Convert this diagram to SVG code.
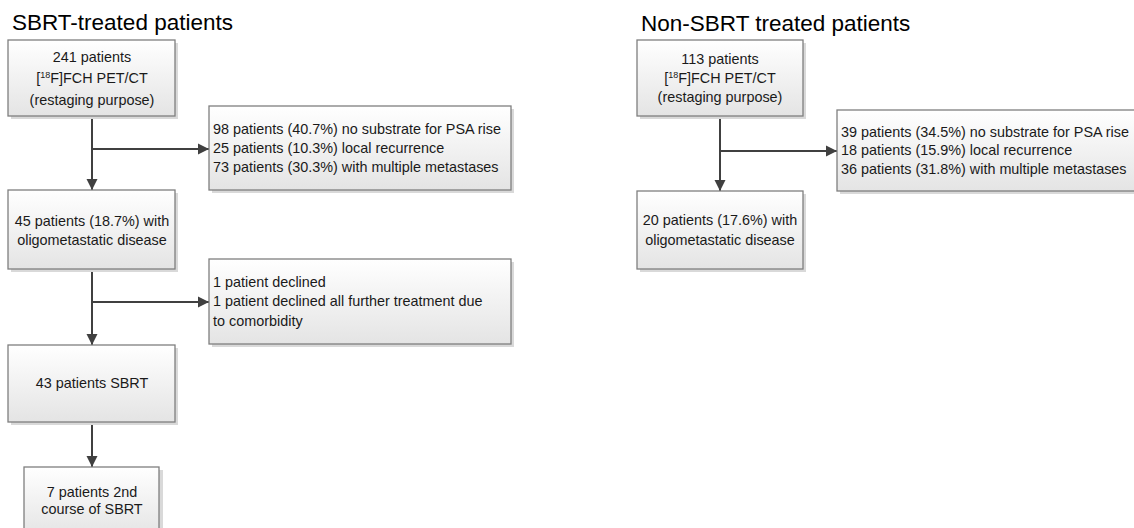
<svg xmlns="http://www.w3.org/2000/svg" width="1134" height="528" viewBox="0 0 1134 528">
<defs>
<linearGradient id="g" x1="0" y1="0" x2="0" y2="1">
<stop offset="0" stop-color="#ffffff"/>
<stop offset="1" stop-color="#e4e4e4"/>
</linearGradient>
<marker id="ah" markerWidth="12" markerHeight="12" refX="11" refY="6" orient="auto" markerUnits="userSpaceOnUse">
<path d="M0,0.5 L11,6 L0,11.5 Z" fill="#404040"/>
</marker>
<style>
.box{fill:url(#g);stroke:#7f7f7f;stroke-width:1.3}
.sh{fill:#d9d9d9}
.t{font-family:"Liberation Sans",Arial,sans-serif;font-size:14.4px;fill:#1a1a1a}
.c{text-anchor:middle}
.title{font-family:"Liberation Sans",Arial,sans-serif;font-size:22.5px;fill:#000}
.ln{stroke:#404040;stroke-width:2;fill:none}
.sup{font-size:9px}
</style>
</defs>
<rect width="1134" height="528" fill="#fff"/>
<text class="title" x="12" y="30">SBRT-treated patients</text>
<text class="title" x="641" y="31">Non-SBRT treated patients</text>

<g id="connectors">
<path class="ln" d="M92,116 V190" marker-end="url(#ah)"/>
<path class="ln" d="M92,149 H209" marker-end="url(#ah)"/>
<path class="ln" d="M92,269 V345" marker-end="url(#ah)"/>
<path class="ln" d="M92,302 H209" marker-end="url(#ah)"/>
<path class="ln" d="M92,422 V467" marker-end="url(#ah)"/>
<path class="ln" d="M720,116 V191" marker-end="url(#ah)"/>
<path class="ln" d="M720,151 H837" marker-end="url(#ah)"/>
</g>

<g id="n1">
<rect class="sh" x="11" y="43" width="167" height="76"/>
<rect class="box" x="8" y="40" width="167" height="76"/>
<text class="t c" x="92" y="62">241 patients</text>
<text class="t c" x="92" y="83">[<tspan class="sup" dy="-5">18</tspan><tspan dy="5">F]FCH PET/CT</tspan></text>
<text class="t c" x="92" y="105">(restaging purpose)</text>
</g>
<g id="n2">
<rect class="sh" x="212" y="109" width="302" height="84"/>
<rect class="box" x="209" y="106" width="302" height="84"/>
<text class="t" x="213" y="134">98 patients (40.7%) no substrate for PSA rise</text>
<text class="t" x="213" y="153">25 patients (10.3%) local recurrence</text>
<text class="t" x="213" y="172">73 patients (30.3%) with multiple metastases</text>
</g>
<g id="n3">
<rect class="sh" x="11" y="193" width="167" height="79"/>
<rect class="box" x="8" y="190" width="167" height="79"/>
<text class="t c" x="92" y="226">45 patients (18.7%) with</text>
<text class="t c" x="92" y="245">oligometastatic disease</text>
</g>
<g id="n4">
<rect class="sh" x="212" y="262" width="302" height="85"/>
<rect class="box" x="209" y="259" width="302" height="85"/>
<text class="t" x="213" y="287">1 patient declined</text>
<text class="t" x="213" y="306">1 patient declined all further treatment due</text>
<text class="t" x="213" y="326">to comorbidity</text>
</g>
<g id="n5">
<rect class="sh" x="11" y="348" width="167" height="77"/>
<rect class="box" x="8" y="345" width="167" height="77"/>
<text class="t c" x="92" y="388">43 patients SBRT</text>
</g>
<g id="n6">
<rect class="sh" x="27" y="470" width="136" height="70"/>
<rect class="box" x="24" y="467" width="135" height="70"/>
<text class="t c" x="92" y="497">7 patients 2nd</text>
<text class="t c" x="92" y="514">course of SBRT</text>
</g>

<g id="n7">
<rect class="sh" x="640" y="43" width="166" height="76"/>
<rect class="box" x="637" y="40" width="166" height="76"/>
<text class="t c" x="720" y="64">113 patients</text>
<text class="t c" x="720" y="83">[<tspan class="sup" dy="-5">18</tspan><tspan dy="5">F]FCH PET/CT</tspan></text>
<text class="t c" x="720" y="102">(restaging purpose)</text>
</g>
<g id="n8">
<rect class="sh" x="840" y="113" width="310" height="81"/>
<rect class="box" x="837" y="110" width="310" height="81"/>
<text class="t" x="841" y="137">39 patients (34.5%) no substrate for PSA rise</text>
<text class="t" x="841" y="155">18 patients (15.9%) local recurrence</text>
<text class="t" x="841" y="174">36 patients (31.8%) with multiple metastases</text>
</g>
<g id="n9">
<rect class="sh" x="640" y="194" width="166" height="78"/>
<rect class="box" x="637" y="191" width="166" height="78"/>
<text class="t c" x="720" y="225">20 patients (17.6%) with</text>
<text class="t c" x="720" y="245">oligometastatic disease</text>
</g>
</svg>
